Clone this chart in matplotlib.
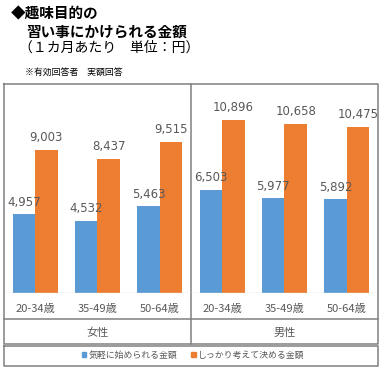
import matplotlib
matplotlib.use("Agg")
import matplotlib.pyplot as plt
import numpy as np
from matplotlib.patches import Patch
from matplotlib.transforms import blended_transform_factory

plt.rcParams['font.family'] = ['Noto Sans CJK JP', 'DejaVu Sans']

ages = ["20-34歳", "35-49歳", "50-64歳", "20-34歳", "35-49歳", "50-64歳"]
genders = ["女性", "男性"]
casual = [4957, 4532, 5463, 6503, 5977, 5892]
serious = [9003, 8437, 9515, 10896, 10658, 10475]
series_names = ["気軽に始められる金額", "しっかり考えて決める金額"]

blue = "#5B9BD5"
orange = "#ED7D31"
gray_txt = "#595959"
border = "#808080"

W, H = 384, 375
fig = plt.figure(figsize=(W / 100, H / 100), dpi=100)

def fx(px):
    return px / W

def fy(py):
    return 1 - py / H

# main plot area (pixel box 4..378 x 84..293)
ax = fig.add_axes([fx(4), fy(293), fx(374), (293 - 84) / H])
ax.patch.set_alpha(0)
x = np.arange(len(ages))
bw = 0.36
b1 = ax.bar(x - bw / 2, casual, bw, color=blue)
b2 = ax.bar(x + bw / 2, serious, bw, color=orange)
for bars, vals in ((b1, casual), (b2, serious)):
    for b, v in zip(bars, vals):
        ax.annotate(f"{v:,}", (b.get_x() + b.get_width() / 2, v),
                    xytext=(0, 4), textcoords="offset points",
                    ha="center", va="bottom", fontsize=8.5, color=gray_txt,
                    family="DejaVu Sans")
ax.set_xlim(-0.5, len(ages) - 0.5)
ax.set_ylim(0, 13160)
ax.set_yticks([])
ax.set_xticks([])
for s in ax.spines.values():
    s.set_visible(False)
ax.axhline(0, color="#D9D9D9", lw=1)

# category labels (age row and gender row)
tr = blended_transform_factory(ax.transData, fig.transFigure)
for i, a in enumerate(ages):
    ax.text(i, fy(309), a, transform=tr, ha="center", va="center",
            fontsize=8, color=gray_txt, clip_on=False)
for i, g in enumerate(genders):
    ax.text(i * 3 + 1, fy(333), g, transform=tr, ha="center", va="center",
            fontsize=8, color=gray_txt, clip_on=False)

# overlay for frame lines and header text (pixel coords)
ov = fig.add_axes([0, 0, 1, 1], zorder=-1)
ov.set_xlim(0, W)
ov.set_ylim(H, 0)
ov.axis("off")
lw = 1.1
ov.plot([4, 378, 378, 4, 4], [84, 84, 344, 344, 84], color=border, lw=lw)
ov.plot([191, 191], [84, 344], color=border, lw=lw)
ov.plot([4, 378], [319, 319], color=border, lw=lw)
ov.plot([3.5, 378, 378, 3.5, 3.5], [345.5, 345.5, 366, 366, 345.5], color=border, lw=lw)

ov.text(11, 13, "◆趣味目的の", fontsize=10.5, fontweight="bold", va="center")
ov.text(26, 32, "習い事にかけられる金額", fontsize=10.5, fontweight="bold", va="center")
ov.text(19, 48, "（１カ月あたり　単位：円）", fontsize=10, va="center")
ov.text(25, 72, "※有効回答者　実額回答", fontsize=6.4, va="center")

handles = [Patch(color=blue), Patch(color=orange)]
fig.legend(handles, series_names, loc="center", bbox_to_anchor=(fx(193), fy(355.5)),
           ncol=2, frameon=False, fontsize=6.4, labelcolor=gray_txt,
           handlelength=0.5, handleheight=0.5, handletextpad=0.25, columnspacing=1.6)

fig.savefig("out.png", dpi=100)
